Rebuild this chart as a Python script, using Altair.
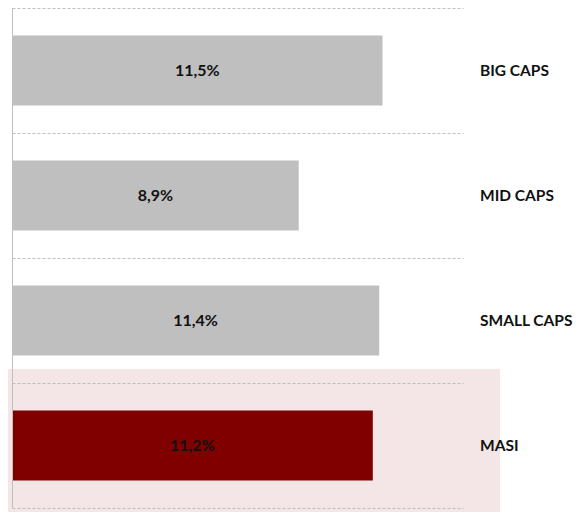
import altair as alt
import pandas as pd

categories = ["BIG CAPS", "MID CAPS", "SMALL CAPS", "MASI"]
values = [11.5, 8.9, 11.4, 11.2]
labels = ["11,5%", "8,9%", "11,4%", "11,2%"]
colors = ["#bfbfbf", "#bfbfbf", "#bfbfbf", "#800000"]

df = pd.DataFrame({"cat": categories, "val": values, "lab": labels, "col": colors})

FONT = "Lato"

yscale = alt.Scale(domain=categories, paddingInner=0, paddingOuter=0)
xscale = alt.Scale(domain=[0, 14], nice=False)

highlight = alt.Chart(pd.DataFrame({"k": [1]})).mark_rect(color="#f4e6e6").encode(
    x=alt.value(-9), x2=alt.value(488), y=alt.value(361), y2=alt.value(504)
)

bars = alt.Chart(df).mark_bar(size=70).encode(
    y=alt.Y("cat:N", scale=yscale, sort=categories,
            axis=alt.Axis(title=None, labels=False, ticks=False, domain=True,
                          domainColor="#bfbfbf", domainWidth=1,
                          grid=True, bandPosition=0, gridDash=[3, 2],
                          gridColor="#bfbfbf", gridWidth=1, zindex=1)),
    x=alt.X("val:Q", scale=xscale,
            axis=alt.Axis(title=None, labels=False, ticks=False, grid=False,
                          domain=True, domainDash=[3, 2], domainColor="#bfbfbf",
                          zindex=1)),
    color=alt.Color("col:N", scale=None),
)

vlabels = alt.Chart(df).transform_calculate(mid="datum.val / 2").mark_text(
    font=FONT, fontWeight="bold", fontSize=16, color="#111111", align="center", baseline="middle"
).encode(
    y=alt.Y("cat:N", scale=yscale, sort=categories),
    x=alt.X("mid:Q", scale=xscale),
    text="lab:N",
)

names = alt.Chart(df).mark_text(
    font=FONT, fontWeight="bold", fontSize=15.5, color="#111111", align="left", baseline="middle"
).encode(
    y=alt.Y("cat:N", scale=yscale, sort=categories),
    x=alt.value(468),
    text="cat:N",
)

chart = alt.layer(highlight, bars, vlabels, names).properties(
    width=451, height=500,
    background="white",
    autosize=alt.AutoSizeParams(type="none"),
    padding={"left": 4, "top": 0, "right": 112, "bottom": 5},
).configure_view(stroke="transparent", strokeWidth=0)

chart.save("out.html", embed_options={"renderer": "svg", "actions": False})
